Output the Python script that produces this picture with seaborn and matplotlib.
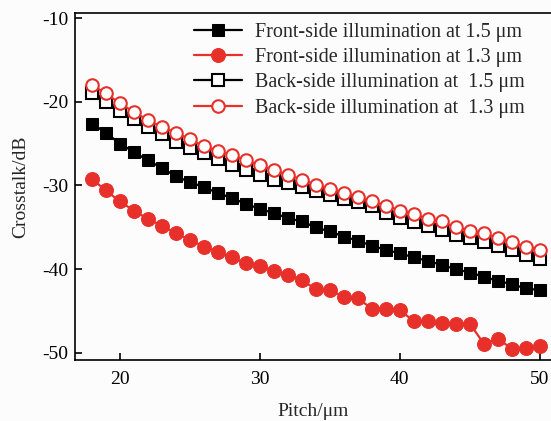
import pandas as pd
import matplotlib.pyplot as plt
import numpy as np
import seaborn as sns

pitch = list(range(18, 51))

front_15 = [-22.6, -23.7, -25.0, -26.0, -27.0, -27.9, -28.9, -29.6, -30.2, -30.9,
            -31.5, -32.2, -32.8, -33.3, -33.9, -34.3, -35.0, -35.5, -36.1, -36.6,
            -37.2, -37.7, -38.1, -38.6, -39.0, -39.5, -40.0, -40.4, -40.9, -41.4,
            -41.8, -42.3, -42.5]
front_13 = [-29.2, -30.6, -31.9, -33.0, -34.0, -34.8, -35.7, -36.5, -37.3, -37.9,
            -38.6, -39.3, -39.6, -40.2, -40.7, -41.3, -42.4, -42.5, -43.3, -43.5,
            -44.7, -44.7, -44.9, -46.2, -46.2, -46.4, -46.5, -46.5, -48.9, -48.3,
            -49.5, -49.4, -49.2]
back_15 = [-19.0, -20.0, -21.1, -22.1, -23.0, -23.9, -24.8, -25.5, -26.1, -26.8,
           -27.5, -28.2, -28.7, -29.3, -29.7, -30.2, -30.7, -31.1, -31.6, -32.0,
           -32.5, -33.3, -33.9, -34.4, -34.9, -35.3, -35.9, -36.3, -36.7, -37.2,
           -37.7, -38.3, -38.8]
back_13 = [-18.0, -19.0, -20.2, -21.2, -22.2, -23.0, -23.7, -24.5, -25.3, -25.9,
           -26.4, -27.0, -27.6, -28.2, -28.7, -29.3, -29.9, -30.4, -30.9, -31.4,
           -31.9, -32.4, -33.0, -33.4, -34.0, -34.3, -35.0, -35.4, -35.7, -36.3,
           -36.8, -37.3, -37.7]

labels = ['Front-side illumination at 1.5 \u03bcm',
          'Front-side illumination at 1.3 \u03bcm',
          'Back-side illumination at  1.5 \u03bcm',
          'Back-side illumination at  1.3 \u03bcm']

red = '#e8302a'

sns.set_style('ticks')
plt.rcParams['font.family'] = ['Liberation Serif', 'DejaVu Serif']
plt.rcParams['axes.unicode_minus'] = False
plt.rcParams['xtick.direction'] = 'in'
plt.rcParams['ytick.direction'] = 'in'

df = pd.DataFrame({'Pitch': pitch, 'f15': front_15, 'f13': front_13,
                   'b15': back_15, 'b13': back_13})

fig = plt.figure(figsize=(5.51, 4.21), dpi=100, facecolor='#fcfcfc')
ax = fig.add_axes([75 / 551, 61 / 421, 476 / 551, 347 / 421])
ax.set_facecolor('#fcfcfc')

styles = [
    ('f15', dict(color='black', marker='s', markersize=9, markerfacecolor='black', markeredgecolor='black')),
    ('f13', dict(color=red, marker='o', markersize=10, markerfacecolor=red, markeredgecolor=red)),
    ('b15', dict(color='black', marker='s', markersize=8, markerfacecolor='white', markeredgecolor='black', markeredgewidth=1.5)),
    ('b13', dict(color=red, marker='o', markersize=9, markerfacecolor='white', markeredgecolor=red, markeredgewidth=1.5)),
]
for (col, kw), lab in zip(styles, labels):
    sns.lineplot(x='Pitch', y=col, data=df, ax=ax, label=lab, linewidth=1.6, **kw)

ax.set_xlim(16.8, 50.8)
ax.set_ylim(-50.85, -9.4)
ax.set_xticks([20, 30, 40, 50])
ax.set_yticks([-10, -20, -30, -40, -50])
ax.tick_params(labelsize=14, length=5, width=1.2, colors='black')
ax.tick_params(axis='x', pad=8)
ax.tick_params(axis='y', pad=5)
ax.set_xlabel('Pitch/\u03bcm', fontsize=14, labelpad=11)
ax.set_ylabel('Crosstalk/dB', fontsize=14, labelpad=9)
ax.spines['right'].set_visible(False)
for s in ['left', 'top', 'bottom']:
    ax.spines[s].set_linewidth(1.2)
    ax.spines[s].set_color('black')

ax.legend(loc='upper right', frameon=False, fontsize=14.5, handlelength=2.4,
          labelspacing=0.3, borderaxespad=0.1, handletextpad=0.6,
          bbox_to_anchor=(0.965, 1.0))

fig.savefig('out.png', dpi=100, facecolor=fig.get_facecolor())
